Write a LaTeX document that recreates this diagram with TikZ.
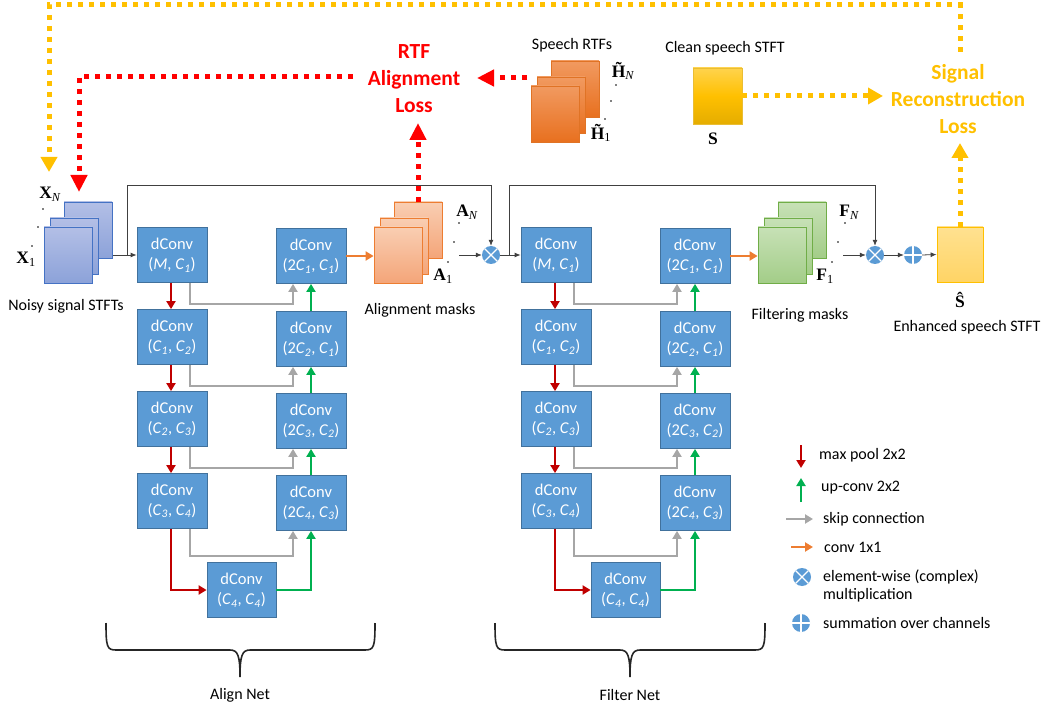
\documentclass[tikz,border=0pt]{standalone}
\usepackage{amsmath}
\usepackage[no-math]{fontspec}
\setmainfont{Carlito}
\newfontfamily\lserif{Liberation Serif}
\usetikzlibrary{arrows.meta,calc}

\definecolor{convblue}{HTML}{5B9BD5}
\definecolor{convedge}{HTML}{41719C}
\definecolor{xsheetT}{HTML}{B3BFE6}
\definecolor{xsheetB}{HTML}{8CA2D9}
\definecolor{xsheetE}{HTML}{4472C4}
\definecolor{hsheetT}{HTML}{F19A60}
\definecolor{hsheetB}{HTML}{E8701F}
\definecolor{hsheetE}{HTML}{E07325}
\definecolor{asheetT}{HTML}{F9CEB2}
\definecolor{asheetB}{HTML}{F4A579}
\definecolor{asheetE}{HTML}{ED7D31}
\definecolor{fsheetT}{HTML}{C7E1B6}
\definecolor{fsheetB}{HTML}{A3CD88}
\definecolor{fsheetE}{HTML}{70AD47}
\definecolor{cleanT}{HTML}{FFD34D}
\definecolor{cleanM}{HTML}{FFC000}
\definecolor{cleanB}{HTML}{E5AD00}
\definecolor{enhT}{HTML}{FFE190}
\definecolor{enhB}{HTML}{FFD465}
\definecolor{gold}{HTML}{FFC000}
\definecolor{lossred}{HTML}{FF0000}
\definecolor{poolred}{HTML}{C00000}
\definecolor{upgreen}{HTML}{00B050}
\definecolor{skipgrey}{HTML}{A6A6A6}
\definecolor{convorange}{HTML}{ED7D31}
\definecolor{wire}{HTML}{404040}

\newcommand\cc[1]{\textit{C}\textsubscript{\textit{#1}}}
% bold serif symbol with an index: #1 symbol, #2 index
\newcommand\symidx[2]{{\lserif\bfseries #1}\textsubscript{\lserif #2}}
% a stack of three sheets; #1 name, #2,#3 centre of the front sheet, #4 sheet style
\newcommand\sheetstack[4]{%
  \node[#4] (#1-3) at (#2+20,#3-25) {};
  \node[#4] (#1-2) at (#2+6,#3-9) {};
  \node[#4] (#1-1) at (#2,#3) {};
}

\tikzset{
  every node/.style={font=\fontsize{16}{19}\selectfont},
  conv/.style={rectangle, draw=convedge, line width=0.8pt, fill=convblue,
    text=white, minimum width=70pt, minimum height=55pt, inner sep=0pt,
    align=center, font=\fontsize{16.5}{20}\selectfont},
  sheet/.style={rectangle, line width=0.8pt, minimum width=48pt,
    minimum height=56pt, inner sep=0pt},
  xsheet/.style={sheet, draw=xsheetE, top color=xsheetT, bottom color=xsheetB},
  hsheet/.style={sheet, draw=hsheetE, top color=hsheetT, bottom color=hsheetB},
  asheet/.style={sheet, draw=asheetE, top color=asheetT, bottom color=asheetB},
  fsheet/.style={sheet, draw=fsheetE, top color=fsheetT, bottom color=fsheetB},
  lbl/.style={inner sep=0pt, align=center},
  mlbl/.style={inner sep=0pt, font=\fontsize{17.5}{20}\selectfont},
  legtext/.style={inner sep=0pt, anchor=west, align=left},
  losstext/.style={inner sep=0pt, align=center,
    font=\fontsize{21.5}{27}\selectfont\bfseries},
  pool/.style={draw=poolred, line width=2.6pt, -{Triangle[length=8pt,width=9pt]}},
  upconv/.style={draw=upgreen, line width=2.6pt, -{Triangle[length=8pt,width=9pt]}},
  skip/.style={draw=skipgrey, line width=2.6pt, -{Triangle[length=8pt,width=9pt]}},
  onebyone/.style={draw=convorange, line width=2.6pt, -{Triangle[length=8pt,width=9pt]}},
  wirearrow/.style={draw=wire, line width=0.8pt, -{Latex[length=6pt,width=5pt]}},
  rdot/.style={draw=lossred, line width=5pt, dash pattern=on 5pt off 6pt,
    -{Triangle[length=17pt,width=16pt]}},
  ydot/.style={draw=gold, line width=5pt, dash pattern=on 5pt off 6pt,
    -{Triangle[length=15pt,width=16pt]}},
  opcircle/.style={circle, fill=convblue, minimum size=18pt, inner sep=0pt},
  mulop/.style={opcircle, path picture={
    \draw[white, line width=1.3pt]
      (path picture bounding box.north west) -- (path picture bounding box.south east)
      (path picture bounding box.north east) -- (path picture bounding box.south west);}},
  sumop/.style={opcircle, path picture={
    \draw[white, line width=1.3pt]
      (path picture bounding box.north) -- (path picture bounding box.south)
      (path picture bounding box.west) -- (path picture bounding box.east);}},
  netbrace/.style={draw=black!85, line width=1.6pt},
}

\begin{document}
\begin{tikzpicture}[x=1pt, y=-1pt]
\useasboundingbox (0,0) rectangle (1050,711);

% ---------- input, masks and target stacks ----------
\sheetstack{X}{68}{255}{xsheet}
\sheetstack{A}{398}{255}{asheet}
\sheetstack{F}{782}{255}{fsheet}
\sheetstack{H}{555}{114}{hsheet}

\node[mlbl] (xn) at (50,194) {\symidx{X}{\itshape N}};
\node[mlbl] (x1) at (26,259) {\symidx{X}{1}};
\node[mlbl] (an) at (467,212) {\symidx{A}{\itshape N}};
\node[mlbl] (a1) at (443,276) {\symidx{A}{1}};
\node[mlbl] (fn) at (849,212) {\symidx{F}{\itshape N}};
\node[mlbl] (f1) at (825,276) {\symidx{F}{1}};
\node[mlbl] (hn) at (623,71) {\symidx{H̃}{\itshape N}};
\node[mlbl] (h1) at (601,133) {\symidx{H̃}{1}};

\foreach \p in {(43,209),(38,227),(32,246),
                (459,223),(454,242),(448,262),
                (845,223),(838,242),(832,262),
                (616,85),(611,101),(605,119)}
  \fill[black] \p circle (0.9pt);

\node[lbl] (noisy) at (66,306) {Noisy signal STFTs};
\node[lbl] (alab) at (420,310) {Alignment masks};
\node[lbl] (flab) at (800,315) {Filtering masks};
\node[lbl] (hlab) at (572,45) {Speech RTFs};

% clean and enhanced speech
\node[rectangle, draw=cleanB!80, line width=0.6pt, minimum width=49pt,
  minimum height=56pt, inner sep=0pt, top color=cleanT, bottom color=cleanB,
  middle color=cleanM] (s) at (717.5,96) {};
\node[mlbl] (slab) at (713,139) {\lserif\bfseries S};
\node[lbl] (clab) at (725,48) {Clean speech STFT};

\node[rectangle, draw=gold, line width=0.8pt, minimum width=46pt,
  minimum height=55pt, inner sep=0pt, top color=enhT, bottom color=enhB]
  (shat) at (960,254.5) {};
\node[mlbl] (shatlab) at (960,300) {\lserif\bfseries Ŝ};
\node[lbl] (elab) at (967,327) {Enhanced speech STFT};

% ---------- loss labels ----------
\node[losstext, text=lossred] (rtfloss) at (414,79) {RTF\\Alignment\\Loss};
\node[losstext, text=gold] (srloss) at (958,99) {Signal\\Reconstruction\\Loss};

% ---------- Align Net ----------
\node[conv] (al1) at (172,255) {dConv\\(\textit{M}, \cc1)};
\node[conv] (al2) at (172,337) {dConv\\(\cc1, \cc2)};
\node[conv] (al3) at (172,419) {dConv\\(\cc2, \cc3)};
\node[conv] (al4) at (172,501) {dConv\\(\cc3, \cc4)};
\node[conv] (ar1) at (311,256) {dConv\\(2\cc1, \cc1)};
\node[conv] (ar2) at (311,339) {dConv\\(2\cc2, \cc1)};
\node[conv] (ar3) at (311,421) {dConv\\(2\cc3, \cc2)};
\node[conv] (ar4) at (311,503) {dConv\\(2\cc4, \cc3)};
\node[conv, minimum width=69pt] (ab) at (241.5,590) {dConv\\(\cc4, \cc4)};

% ---------- Filter Net ----------
\node[conv] (fl1) at (556,255) {dConv\\(\textit{M}, \cc1)};
\node[conv] (fl2) at (556,337) {dConv\\(\cc1, \cc2)};
\node[conv] (fl3) at (556,419) {dConv\\(\cc2, \cc3)};
\node[conv] (fl4) at (556,501) {dConv\\(\cc3, \cc4)};
\node[conv] (fr1) at (695,256) {dConv\\(2\cc1, \cc1)};
\node[conv] (fr2) at (695,339) {dConv\\(2\cc2, \cc1)};
\node[conv] (fr3) at (695,421) {dConv\\(2\cc3, \cc2)};
\node[conv] (fr4) at (695,503) {dConv\\(2\cc4, \cc3)};
\node[conv, minimum width=69pt] (fb) at (625.5,590) {dConv\\(\cc4, \cc4)};

% U-Net connections of both networks
\foreach \n in {a,f}{
  \foreach \i/\j in {1/2,2/3,3/4}{
    \draw[pool] ([xshift=-1pt]\n l\i.south) -- ([xshift=-1pt]\n l\j.north);
    \draw[upconv] (\n r\j.north) -- (\n r\i.south);
    \draw[skip] ([xshift=18pt]\n l\i.south) -- ++(0,21) -| ([xshift=-18pt]\n r\i.south);
  }
  \draw[skip] ([xshift=18pt]\n l4.south) -- ++(0,27) -| ([xshift=-18pt]\n r4.south);
  \draw[pool] ([xshift=-1pt]\n l4.south) |- (\n b.west);
  \draw[upconv] (\n b.east) -| (\n r4.south);
}

\draw[onebyone] (ar1.east) -- (ar1.east -| A-1.west);
\draw[onebyone] (fr1.east) -- (fr1.east -| F-1.west);

% ---------- operators and thin signal paths ----------
\node[mulop] (m1) at (491,255) {};
\node[mulop] (m2) at (875,255) {};
\node[sumop] (sum) at (913,255) {};

\coordinate (xout) at (113,255);
\coordinate (xsplit) at (127,255);
\coordinate (fsplit) at (509,255);
\coordinate (looptop) at (0,185);
\coordinate (aout) at (459,255);
\coordinate (fout) at (843,255);

\draw[wirearrow] (xout) -- (al1.west);
\draw[wirearrow] (xsplit) -- (xsplit |- looptop) -| (m1.north);
\draw[wirearrow] (aout) -- (m1.west);
\draw[wirearrow] (m1.east) -- (fl1.west);
\draw[wirearrow] (fsplit) -- (fsplit |- looptop) -| (m2.north);
\draw[wirearrow] (fout) -- (m2.west);
\draw[wirearrow] (m2.east) -- (sum.west);
\draw[wirearrow] (sum.east) -- (shat.west);

% ---------- loss paths ----------
\coordinate (rtfleft) at (353,77);
\coordinate (rcorner) at (79,77);
\coordinate (xtipR) at (79,192);
\coordinate (hstart) at (527,78);
\coordinate (rtfright) at (477,78);
\coordinate (rtftip) at (418,123);
\draw[rdot] (rtfleft) -- (rcorner) -- (xtipR);
\draw[rdot] (hstart) -- (rtfright);
\draw[rdot] (A-3.north) -- (rtftip);

\coordinate (srup) at (960,52);
\coordinate (ycorner) at (49,5);
\coordinate (xtipY) at (49,172);
\coordinate (srtip) at (960,143);
\coordinate (srleft) at (883,96);
\draw[ydot] (srup) |- (ycorner) -- (xtipY);
\draw[ydot] (shat.north) -- (srtip);
\draw[ydot] (s.east) -- (srleft);

% ---------- legend ----------
\coordinate (lpa) at (801,445); \coordinate (lpb) at (801,468);
\coordinate (lua) at (801,502); \coordinate (lub) at (801,478);
\coordinate (lsa) at (786,519); \coordinate (lsb) at (813,519);
\coordinate (loa) at (791,547); \coordinate (lob) at (813,547);
\draw[pool] (lpa) -- (lpb);
\draw[upconv] (lua) -- (lub);
\draw[skip] (lsa) -- (lsb);
\draw[onebyone] (loa) -- (lob);
\node[mulop] (lmul) at (802,577) {};
\node[sumop] (lsum) at (801,623) {};
\node[legtext] (t1) at (819,455) {max pool 2x2};
\node[legtext] (t2) at (821,488) {up-conv 2x2};
\node[legtext] (t3) at (823,519) {skip connection};
\node[legtext] (t4) at (824,547) {conv 1x1};
\node[legtext, font=\fontsize{16}{18}\selectfont] (t5) at (823,586) {element-wise (complex)\\multiplication};
\node[legtext] (t6) at (823,623) {summation over channels};

% ---------- braces ----------
\draw[netbrace] (106,623) .. controls (106,647) and (107,650) .. (116,650)
  -- (230,650) .. controls (238,650) and (240,656) .. (240,677)
  .. controls (240,656) and (242,650) .. (250,650) -- (365,650)
  .. controls (374,650) and (375,647) .. (375,623);
\draw[netbrace] (495,623) .. controls (495,647) and (496,650) .. (505,650)
  -- (620,650) .. controls (628,650) and (630,656) .. (630,677)
  .. controls (630,656) and (632,650) .. (640,650) -- (755,650)
  .. controls (764,650) and (765,647) .. (765,623);
\node[lbl] (alignnet) at (240,695) {Align Net};
\node[lbl] (filternet) at (630,695) {Filter Net};
\end{tikzpicture}
\end{document}
